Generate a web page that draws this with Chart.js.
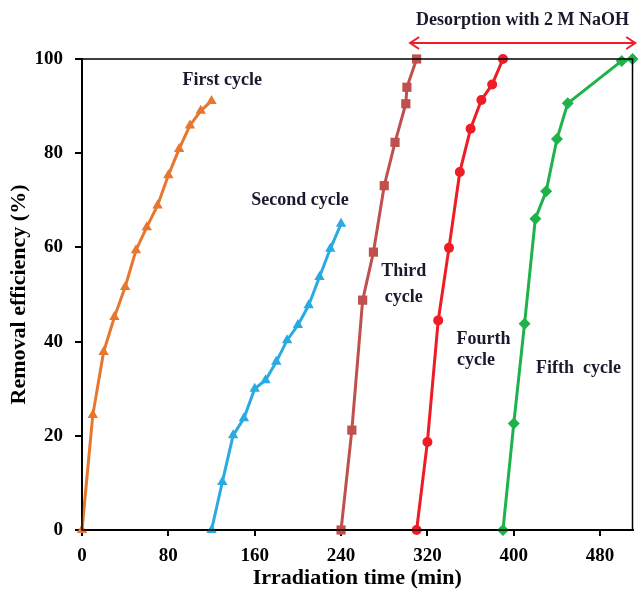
<!DOCTYPE html>
<html lang="en">
<head>
  <meta charset="UTF-8">
  <title>Removal efficiency cycles</title>
  <script src="https://cdn.jsdelivr.net/npm/chart.js"></script>
  <style>
    html, body { margin: 0; padding: 0; background: #fff; }
    #wrap { width: 639px; height: 593px; }
  </style>
</head>
<body>
  <div id="wrap"><canvas id="cycleChart" width="639" height="593"></canvas></div>

  <script>
    // values
    const xTicks = [0, 80, 160, 240, 320, 400, 480];
    const yTicks = [0, 20, 40, 60, 80, 100];

    const firstTime = [0, 10, 20, 30, 40, 50, 60, 70, 80, 90, 100, 110, 120];
    const firstEff  = [0, 24.4, 37.8, 45.2, 51.6, 59.4, 64.3, 68.9, 75.3, 80.9, 85.9, 89.0, 91.1];

    const secondTime = [120, 130, 140, 150, 160, 170, 180, 190, 200, 210, 220, 230, 240];
    const secondEff  = [0, 10.2, 20.1, 23.7, 30.0, 31.8, 35.7, 40.3, 43.5, 47.7, 53.7, 59.7, 65.0];

    const thirdTime = [240, 250, 260, 270, 280, 290, 300, 301, 310];
    const thirdEff  = [0, 21.2, 48.8, 59.0, 73.1, 82.3, 90.5, 94.0, 100];

    const fourthTime = [310, 320, 330, 340, 350, 360, 370, 380, 390];
    const fourthEff  = [0, 18.7, 44.5, 59.9, 76.0, 85.2, 91.3, 94.6, 100];

    const fifthTime = [390, 400, 410, 420, 430, 440, 450, 500, 510];
    const fifthEff  = [0, 22.6, 43.8, 66.1, 71.9, 83.0, 90.6, 99.6, 100];

    const serif = '"Liberation Serif", "Times New Roman", serif';

    function pts(xs, ys) {
      return xs.map((x, i) => ({ x: x, y: ys[i] }));
    }

    function serie(label, xs, ys, color, shape, size) {
      return {
        label: label,
        data: pts(xs, ys),
        borderColor: color,
        backgroundColor: color,
        borderWidth: 3,
        pointStyle: shape,
        pointRadius: size,
        pointBorderWidth: 0,
        clip: false,
        tension: 0
      };
    }

    // text labels + desorption arrow
    const notes = {
      id: 'notes',
      afterDatasetsDraw(chart) {
        const { ctx, scales, chartArea } = chart;
        const xs = scales.x, ys = scales.y;
        ctx.save();
        ctx.fillStyle = '#1a1a2e';
        ctx.font = 'bold 18px ' + serif;
        ctx.textAlign = 'center';
        ctx.textBaseline = 'middle';
        const put = (t, x, y) => ctx.fillText(t, xs.getPixelForValue(x), ys.getPixelForValue(y));
        put('First cycle', 130, 95.5);
        put('Second cycle', 202, 70.0);
        put('Third', 298, 55.0);
        put('cycle', 298, 49.5);
        put('Fourth', 372, 40.5);
        put('cycle', 365, 36.0);
        put('Fifth  cycle', 460, 34.3);

        // arrow above the plot
        const x1 = xs.getPixelForValue(304);
        const x2 = xs.getPixelForValue(512.5);
        const ay = chartArea.top - 16;
        ctx.strokeStyle = '#ee1c24';
        ctx.lineWidth = 2;
        ctx.beginPath();
        ctx.moveTo(x1, ay); ctx.lineTo(x2, ay);
        ctx.moveTo(x1 + 9, ay - 6); ctx.lineTo(x1, ay); ctx.lineTo(x1 + 9, ay + 6);
        ctx.moveTo(x2 - 9, ay - 6); ctx.lineTo(x2, ay); ctx.lineTo(x2 - 9, ay + 6);
        ctx.stroke();

        ctx.fillStyle = '#1a1a2e';
        ctx.font = 'bold 18px ' + serif;
        put('Desorption with 2 M NaOH', 408, 108.2);

        // frame
        ctx.strokeStyle = '#000';
        ctx.lineWidth = 1.5;
        ctx.strokeRect(chartArea.left, chartArea.top, chartArea.width, chartArea.height);
        ctx.restore();
      }
    };

    const ctx = document.getElementById('cycleChart').getContext('2d');
    new Chart(ctx, {
      type: 'line',
      data: {
        datasets: [
          serie('First cycle', firstTime, firstEff, '#e8772e', 'triangle', 6),
          serie('Second cycle', secondTime, secondEff, '#29abe2', 'triangle', 6),
          serie('Third cycle', thirdTime, thirdEff, '#c0504d', 'rect', 6.5),
          serie('Fourth cycle', fourthTime, fourthEff, '#ee1c24', 'circle', 5),
          serie('Fifth cycle', fifthTime, fifthEff, '#1db34a', 'rectRot', 6)
        ]
      },
      options: {
        responsive: false,
        animation: false,
        layout: { padding: { top: 59, right: 6, left: 0, bottom: 0 } },
        plugins: {
          legend: { display: false },
          tooltip: { enabled: false }
        },
        scales: {
          x: {
            type: 'linear',
            min: 0,
            max: 510,
            afterBuildTicks(axis) { axis.ticks = xTicks.map(v => ({ value: v })); },
            afterFit(axis) { axis.height = 63; },
            border: { color: '#000', width: 2 },
            grid: { drawOnChartArea: false, color: '#000', lineWidth: 2, tickLength: 6 },
            ticks: { color: '#000', font: { family: serif, size: 19, weight: 'bold' }, padding: 9 },
            title: {
              display: true,
              text: 'Irradiation time (min)',
              color: '#000',
              font: { family: serif, size: 22, weight: 'bold' },
              padding: { top: 0, bottom: 1 }
            }
          },
          y: {
            type: 'linear',
            min: 0,
            max: 100,
            afterBuildTicks(axis) { axis.ticks = yTicks.map(v => ({ value: v })); },
            afterFit(axis) { axis.width = 82; },
            border: { color: '#000', width: 2 },
            grid: { drawOnChartArea: false, color: '#000', lineWidth: 2, tickLength: 7 },
            ticks: { color: '#000', font: { family: serif, size: 19, weight: 'bold' }, padding: 12 },
            title: {
              display: true,
              text: 'Removal efficiency (%)',
              color: '#000',
              font: { family: serif, size: 22, weight: 'bold' },
              padding: { top: 6, bottom: 0 }
            }
          }
        }
      },
      plugins: [notes]
    });
  </script>
</body>
</html>
